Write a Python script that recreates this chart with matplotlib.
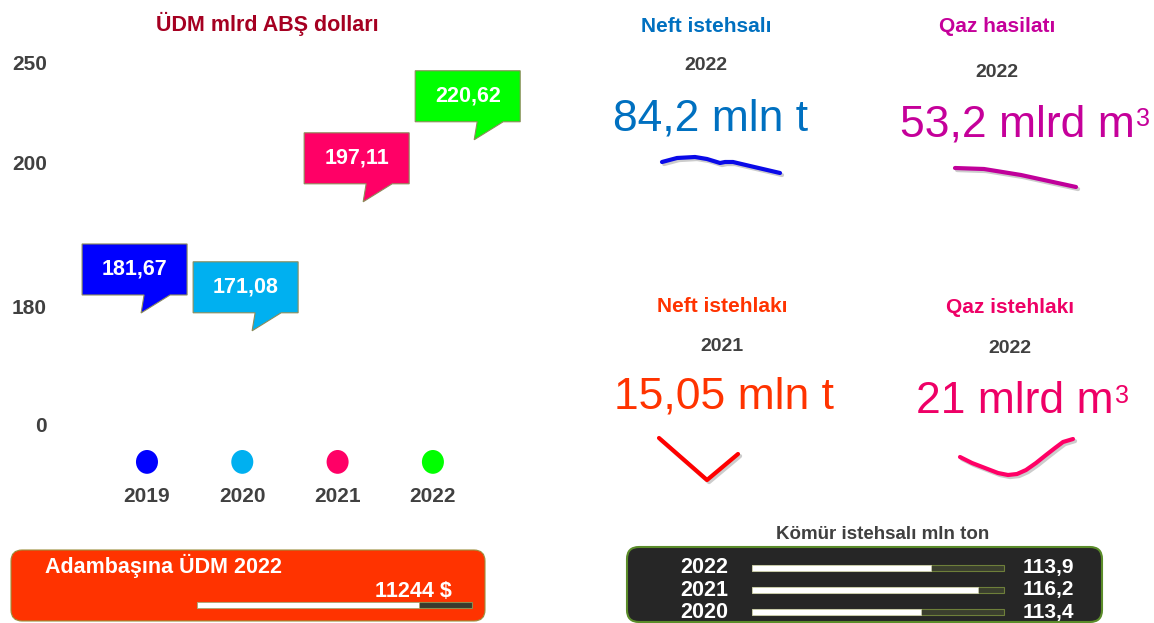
import numpy as np
import matplotlib
matplotlib.use("Agg")
import matplotlib.pyplot as plt
import matplotlib.patheffects as pe
from matplotlib import transforms
from matplotlib.patches import FancyBboxPatch, Polygon, Ellipse

plt.rcParams['font.family'] = ['Liberation Sans', 'DejaVu Sans']

W, H = 1154, 623
GRAY = '#404040'

# ÜDM, mlrd ABŞ dolları
gdp_years = ['2019', '2020', '2021', '2022']
gdp_values = [181.67, 171.08, 197.11, 220.62]
gdp_labels = ['181,67', '171,08', '197,11', '220,62']
gdp_colors = ['#0000FF', '#00B0F0', '#FF0066', '#00FF00']
gdp_ticks = [0, 180, 200, 250]

# adambaşına ÜDM
pc_title = 'Adambaşına ÜDM 2022'
pc_value = 11244
pc_label = '11244 $'
pc_max = 13900

# kömür istehsalı
coal_years = ['2022', '2021', '2020']
coal_values = [113.9, 116.2, 113.4]
coal_labels = ['113,9', '116,2', '113,4']

# göstəricilər
ind_titles = ['Neft istehsalı', 'Qaz hasilatı', 'Neft istehlakı', 'Qaz istehlakı']
ind_years = ['2022', '2022', '2021', '2022']
ind_values = ['84,2 mln t', '53,2 mlrd m', '15,05 mln t', '21 mlrd m']
ind_sup = ['', '3', '', '3']
ind_colors = ['#0070C0', '#C5009A', '#FF3300', '#EE0066']
line_colors = ['#0A0AE8', '#C0009A', '#FF0000', '#FF0066']

# trend xətləri (şəkildən oxunub, nisbi)
trend_x = [
    [0, 15, 33, 45, 58, 63, 71, 88, 118],
    [0, 29, 66, 121],
    [0, 48, 79],
    [0, 12, 25, 38, 48, 57, 66, 76, 86, 95, 103, 113],
]
trend_y = [
    [11, 15, 16, 14, 10, 11, 11, 7, 0],
    [19, 18, 12, 0],
    [42, 0, 26],
    [18, 12, 7, 2, 0, 1, 5, 12, 20, 27, 33, 36],
]

fig = plt.figure(figsize=(W / 100, H / 100), dpi=100)
fig.patch.set_facecolor('white')


def px_axes(x0, y0, x1, y1, off=True):
    a = fig.add_axes([x0 / W, 1 - y1 / H, (x1 - x0) / W, (y1 - y0) / H])
    if off:
        a.set_axis_off()
    return a


ov = px_axes(0, 0, W, H)
ov.set_xlim(0, W)
ov.set_ylim(H, 0)

# ---------- ÜDM ----------
ov.text(267, 31, 'ÜDM mlrd ABŞ dolları', ha='center', va='baseline',
        fontsize=15.5, fontweight='bold', color='#A50021')

ax = px_axes(55, 63, 545, 424, off=False)
tick_px = [0, 117, 261, 361]


def fwd(v):
    return np.interp(v, gdp_ticks, tick_px)


def inv(p):
    return np.interp(p, tick_px, gdp_ticks)


ax.set_yscale('function', functions=(fwd, inv))
for s in ax.spines.values():
    s.set_visible(False)
ax.patch.set_alpha(0)
ax.set_xticks([])
ax.set_yticks(gdp_ticks, labels=[str(t) for t in gdp_ticks])
ax.tick_params(axis='y', length=0, pad=5.8, labelsize=15, labelcolor=GRAY)
for lab in ax.get_yticklabels():
    lab.set_fontweight('bold')

box = np.array([(-52.5, 0), (9.5, 0), (6.5, -18), (35.5, 0), (52.5, 0),
                (52.5, 51), (-52.5, 51)]) / 100
for i, (v, lab, c) in enumerate(zip(gdp_values, gdp_labels, gdp_colors)):
    bx = -0.13 + 1.165 * i
    tr = fig.dpi_scale_trans + transforms.ScaledTranslation(bx, v, ax.transData)
    ax.add_patch(Polygon(box, closed=True, transform=tr, fc=c, ec='#8C8C5A',
                         lw=0.8, clip_on=False))
    ax.text(0, 0.255, lab, transform=tr, ha='center', va='center',
            fontsize=15.5, fontweight='bold', color='white')

xt = ax.get_xaxis_transform()
for i, (yr, c) in enumerate(zip(gdp_years, gdp_colors)):
    ax.add_patch(Ellipse((i, -0.105), 0.231, 0.066, transform=xt, fc=c,
                         ec='none', clip_on=False))
    ax.text(i, -0.216, yr, transform=xt, ha='center', va='baseline',
            fontsize=15, fontweight='bold', color=GRAY)

ax.set_xlim(-0.965, 4.176)
ax.set_ylim(0, 250)

# ---------- adambaşına ÜDM ----------
ov.add_patch(FancyBboxPatch((11, 550), 474, 71,
                            boxstyle='round,pad=0,rounding_size=11',
                            fc='#FF3300', ec='#9C8E3C', lw=0.8))
ov.text(45, 573, pc_title, ha='left', va='baseline', fontsize=15.5,
        fontweight='bold', color='white')
ov.text(452, 597, pc_label, ha='right', va='baseline', fontsize=15.5,
        fontweight='bold', color='white')
axp = px_axes(197, 602, 472, 608)
axp.barh(0, pc_max, height=1, color='#3A3A2E', edgecolor='#8C8C50', lw=0.8,
         clip_on=False)
axp.barh(0, pc_value, height=1, color='white', edgecolor='#B0A070', lw=0.6,
         clip_on=False)
axp.set_xlim(0, pc_max)
axp.set_ylim(-0.5, 0.5)

# ---------- göstəricilər ----------
ind_cx = [706, 997, 722, 1010]
val_cx = [711, 1017, 724, 1015]
title_base = [32, 32, 312, 313]
year_base = [70, 77, 351, 353]
val_base = [130, 136, 408, 413]
trend_boxes = [(662, 157, 780, 173), (955, 168, 1076, 187),
               (659, 438, 738, 480), (960, 439, 1073, 475)]

for k in range(4):
    c = ind_colors[k]
    ov.text(ind_cx[k], title_base[k], ind_titles[k], ha='center', va='baseline',
            fontsize=15, fontweight='bold', color=c)
    ov.text(ind_cx[k], year_base[k], ind_years[k], ha='center', va='baseline',
            fontsize=14, fontweight='bold', color=GRAY)
    t = ov.text(val_cx[k], val_base[k], ind_values[k], ha='center',
                va='baseline', fontsize=32, color=c)
    if ind_sup[k]:
        ov.annotate(ind_sup[k], xy=(1, 1), xycoords=t, xytext=(1, -2.5),
                    textcoords='offset points', ha='left', va='top',
                    fontsize=18, color=c)

    x0, y0, x1, y1 = trend_boxes[k]
    axs = px_axes(x0, y0, x1, y1)
    axs.plot(trend_x[k], trend_y[k], color=line_colors[k], lw=3,
             solid_capstyle='round', solid_joinstyle='round', clip_on=False,
             path_effects=[pe.SimpleLineShadow(offset=(1.5, -1.5),
                                               shadow_color='gray', alpha=0.4),
                           pe.Normal()])
    axs.set_xlim(min(trend_x[k]), max(trend_x[k]))
    axs.set_ylim(min(trend_y[k]), max(trend_y[k]))

# ---------- kömür ----------
ov.text(883, 539, 'Kömür istehsalı mln ton', ha='center', va='baseline',
        fontsize=13.5, fontweight='bold', color=GRAY)
ov.add_patch(FancyBboxPatch((627, 547), 475, 75,
                            boxstyle='round,pad=0,rounding_size=12',
                            fc='#262626', ec='#5B8C2A', lw=1.5))
coal_min, coal_max = 105, 117.5
axc = px_axes(752, 556.5, 1004, 623.5)
axc.barh(range(3), coal_max - coal_min, left=coal_min, height=0.27,
         color='#3B3F2E', edgecolor='#6E7F3A', lw=0.8, clip_on=False)
axc.barh(range(3), [v - coal_min for v in coal_values], left=coal_min,
         height=0.27, color='white', edgecolor='#D0D0B0', lw=0.5, clip_on=False)
axc.set_xlim(coal_min, coal_max)
axc.set_ylim(2.5, -0.5)
bt = transforms.blended_transform_factory(ov.transData, axc.transData)
for i, (yr, lab) in enumerate(zip(coal_years, coal_labels)):
    axc.text(704, i, yr, transform=bt, ha='center', va='center', fontsize=15.5,
             fontweight='bold', color='white', clip_on=False)
    axc.text(1023, i, lab, transform=bt, ha='left', va='center', fontsize=15,
             fontweight='bold', color='white', clip_on=False)

fig.savefig('out.png', dpi=100, facecolor='white')
